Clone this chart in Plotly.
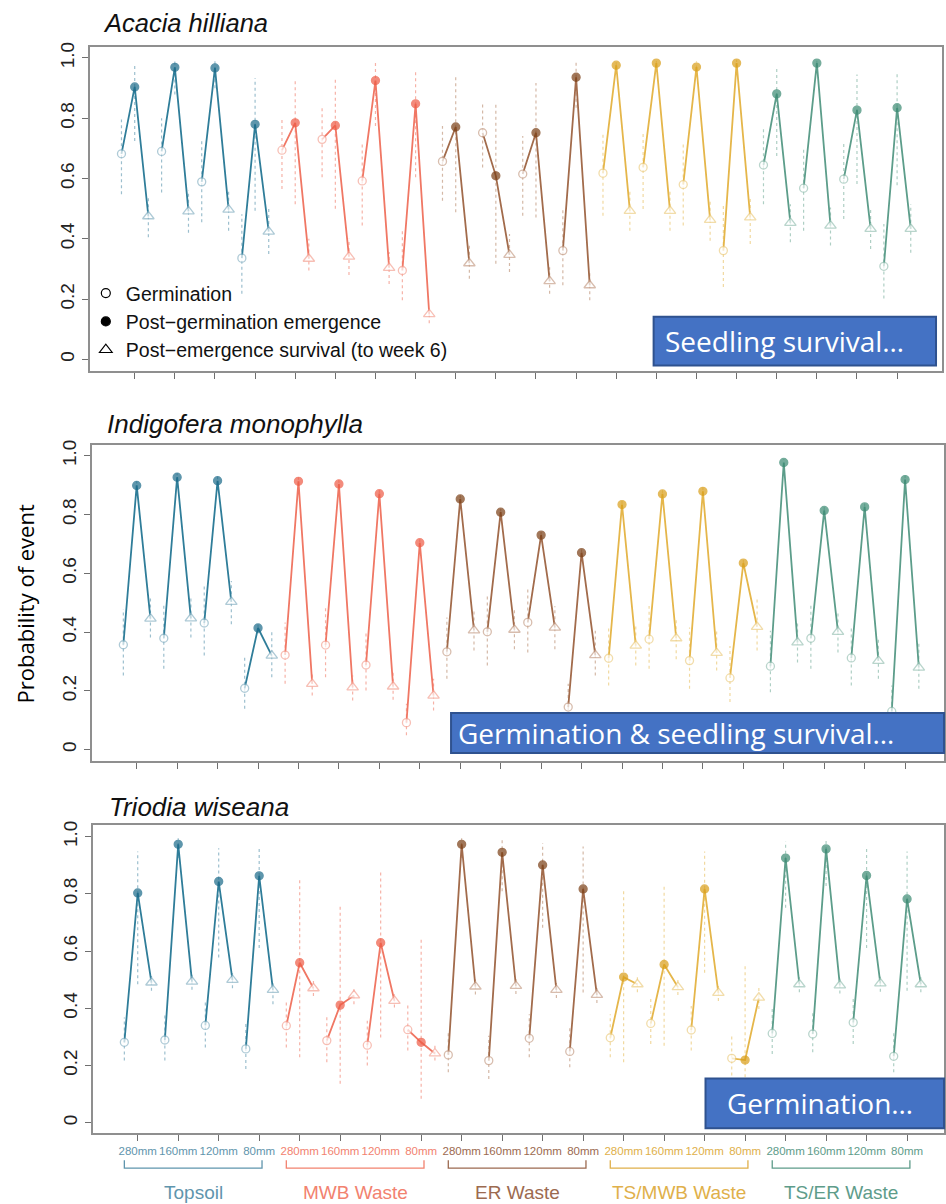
import plotly.graph_objects as go

# ---------------- data ----------------
species = ["Acacia hilliana", "Indigofera monophylla", "Triodia wiseana"]
groups = ["Topsoil", "MWB Waste", "ER Waste", "TS/MWB Waste", "TS/ER Waste"]
depths = ["280mm", "160mm", "120mm", "80mm"]
treatments = list(range(1, 21))
event_names = ["Germination", "Post\u2212germination emergence", "Post\u2212emergence survival (to week 6)"]

# Acacia hilliana
acacia_germ = [0.682, 0.690, 0.589, 0.336, 0.694, 0.730, 0.592, 0.295, 0.657, 0.752, 0.615, 0.361, 0.618, 0.637, 0.580, 0.361, 0.645, 0.568, 0.598, 0.309]
acacia_germ_lo = [0.548, 0.554, 0.455, 0.218, 0.565, 0.604, 0.444, 0.196, 0.526, 0.637, 0.477, 0.246, 0.477, 0.499, 0.444, 0.240, 0.515, 0.427, 0.466, 0.202]
acacia_germ_hi = [0.796, 0.800, 0.725, 0.482, 0.800, 0.835, 0.720, 0.427, 0.774, 0.846, 0.741, 0.504, 0.747, 0.758, 0.714, 0.515, 0.769, 0.703, 0.725, 0.449]
acacia_emerg = [0.904, 0.969, 0.967, 0.780, 0.785, 0.776, 0.925, 0.848, 0.771, 0.609, 0.752, 0.936, 0.976, 0.983, 0.970, 0.983, 0.881, 0.983, 0.827, 0.835]
acacia_emerg_lo = [0.725, 0.879, 0.900, 0.493, 0.515, 0.500, 0.774, 0.604, 0.488, 0.317, 0.471, 0.835, 0.956, 0.960, 0.945, 0.967, 0.675, 0.961, 0.582, 0.578]
acacia_emerg_hi = [0.978, 0.994, 0.994, 0.934, 0.928, 0.928, 0.983, 0.956, 0.940, 0.846, 0.917, 0.989, 0.989, 0.994, 0.989, 0.994, 0.967, 0.994, 0.945, 0.950]
acacia_surv = [0.475, 0.491, 0.497, 0.424, 0.334, 0.341, 0.304, 0.150, 0.319, 0.347, 0.260, 0.246, 0.493, 0.493, 0.463, 0.471, 0.453, 0.444, 0.433, 0.433]
acacia_surv_lo = [0.405, 0.420, 0.427, 0.350, 0.295, 0.280, 0.250, 0.120, 0.268, 0.290, 0.218, 0.196, 0.427, 0.427, 0.394, 0.383, 0.389, 0.378, 0.366, 0.354]
acacia_surv_hi = [0.537, 0.560, 0.565, 0.499, 0.400, 0.400, 0.356, 0.180, 0.383, 0.416, 0.306, 0.295, 0.559, 0.565, 0.531, 0.540, 0.515, 0.504, 0.504, 0.515]

# Indigofera monophylla
indigo_germ = [0.357, 0.379, 0.431, 0.209, 0.322, 0.356, 0.288, 0.092, 0.333, 0.401, 0.433, 0.145, 0.311, 0.376, 0.303, 0.244, 0.284, 0.379, 0.312, 0.130]
indigo_germ_lo = [0.252, 0.275, 0.320, 0.139, 0.224, 0.246, 0.201, 0.049, 0.241, 0.286, 0.331, 0.094, 0.218, 0.275, 0.207, 0.162, 0.195, 0.275, 0.218, 0.071]
indigo_germ_hi = [0.478, 0.500, 0.557, 0.314, 0.433, 0.484, 0.405, 0.156, 0.450, 0.523, 0.551, 0.224, 0.421, 0.489, 0.416, 0.353, 0.405, 0.495, 0.421, 0.218]
indigo_emerg = [0.899, 0.927, 0.915, 0.414, 0.913, 0.904, 0.871, 0.704, 0.853, 0.808, 0.730, 0.670, 0.834, 0.870, 0.879, 0.635, 0.977, 0.814, 0.826, 0.919]
indigo_emerg_lo = [0.885, 0.913, 0.900, 0.395, 0.898, 0.888, 0.853, 0.685, 0.835, 0.790, 0.710, 0.650, 0.815, 0.852, 0.862, 0.615, 0.965, 0.795, 0.807, 0.903]
indigo_emerg_hi = [0.913, 0.941, 0.929, 0.432, 0.927, 0.919, 0.888, 0.722, 0.870, 0.825, 0.749, 0.689, 0.852, 0.887, 0.895, 0.655, 0.988, 0.832, 0.844, 0.934]
indigo_surv = [0.446, 0.447, 0.503, 0.320, 0.224, 0.212, 0.215, 0.184, 0.406, 0.408, 0.415, 0.322, 0.354, 0.379, 0.329, 0.418, 0.365, 0.401, 0.302, 0.279]
indigo_surv_lo = [0.382, 0.382, 0.427, 0.246, 0.184, 0.167, 0.170, 0.133, 0.337, 0.342, 0.342, 0.252, 0.286, 0.308, 0.269, 0.337, 0.297, 0.331, 0.241, 0.207]
indigo_surv_hi = [0.523, 0.523, 0.574, 0.410, 0.263, 0.252, 0.268, 0.241, 0.478, 0.478, 0.488, 0.405, 0.421, 0.450, 0.405, 0.517, 0.433, 0.472, 0.376, 0.365]

# Triodia wiseana
triodia_germ = [0.281, 0.289, 0.340, 0.258, 0.339, 0.287, 0.271, 0.325, 0.237, 0.217, 0.295, 0.249, 0.297, 0.347, 0.324, 0.225, 0.312, 0.310, 0.350, 0.232]
triodia_germ_lo = [0.217, 0.217, 0.263, 0.188, 0.263, 0.211, 0.200, 0.252, 0.176, 0.153, 0.229, 0.194, 0.229, 0.275, 0.252, 0.165, 0.240, 0.246, 0.275, 0.176]
triodia_germ_hi = [0.368, 0.379, 0.426, 0.345, 0.426, 0.374, 0.356, 0.414, 0.321, 0.304, 0.379, 0.339, 0.379, 0.437, 0.408, 0.304, 0.397, 0.393, 0.437, 0.321]
triodia_emerg = [0.803, 0.973, 0.843, 0.863, 0.559, 0.411, 0.629, 0.281, 0.973, 0.945, 0.901, 0.817, 0.509, 0.553, 0.817, 0.219, 0.925, 0.957, 0.864, 0.782]
triodia_emerg_lo = [0.484, 0.925, 0.577, 0.611, 0.229, 0.136, 0.298, 0.084, 0.925, 0.809, 0.681, 0.455, 0.211, 0.269, 0.524, 0.159, 0.751, 0.827, 0.611, 0.461]
triodia_emerg_hi = [0.948, 0.994, 0.959, 0.965, 0.849, 0.756, 0.878, 0.646, 0.994, 0.988, 0.977, 0.965, 0.809, 0.832, 0.948, 0.553, 0.983, 0.988, 0.965, 0.948]
triodia_surv = [0.490, 0.493, 0.499, 0.464, 0.470, 0.445, 0.426, 0.242, 0.476, 0.478, 0.464, 0.447, 0.484, 0.474, 0.454, 0.437, 0.484, 0.480, 0.487, 0.484]
triodia_surv_lo = [0.461, 0.465, 0.470, 0.414, 0.443, 0.414, 0.403, 0.217, 0.448, 0.450, 0.436, 0.418, 0.456, 0.446, 0.425, 0.397, 0.456, 0.452, 0.458, 0.456]
triodia_surv_hi = [0.513, 0.518, 0.525, 0.490, 0.495, 0.472, 0.449, 0.269, 0.502, 0.504, 0.490, 0.473, 0.510, 0.500, 0.480, 0.478, 0.510, 0.506, 0.513, 0.510]

y_tick_vals = [0, 0.2, 0.4, 0.6, 0.8, 1.0]
y_tick_text = ["0", "0.2", "0.4", "0.6", "0.8", "1.0"]

callouts = ["Seedling survival\u2026", "Germination & seedling survival\u2026", "Germination\u2026"]

# ---------------- styling ----------------
marker_col = ["#1B6A89", "#EE5B45", "#7A3E14", "#D99E18", "#3A8A72"]
line_col = ["#2F7D99", "#F07764", "#A26B4B", "#E5B64A", "#5C9D8A"]
open_col = ["#8DB5C6", "#F5A597", "#C8A28C", "#EDCF87", "#9CC4B7"]
err_col = ["#9CBFCE", "#F6B2A7", "#D4B8A6", "#F1D9A0", "#AECFC4"]
label_col = ["#5F95AD", "#F2826F", "#9C6A50", "#E0B04A", "#5E9C8A"]

W, H = 946, 1204
OFF = [-0.33, 0.0, 0.34]

# panel geometry (pixels) : x domain, y domain, axis ranges
panels = [
    dict(xd=(90, 944), yd=(42, 368), xr=(-0.119, 21.119), yr=(-0.040, 1.037), title_xy=(101, 18)),
    dict(xd=(92, 946), yd=(442, 759), xr=(-0.110, 20.962), yr=(-0.038, 1.036), title_xy=(105, 421)),
    dict(xd=(93, 946), yd=(823, 1133), xr=(-0.109, 20.912), yr=(-0.037, 1.042), title_xy=(107, 805)),
]
boxes = [(655, 313, 938, 362), (452, 711, 946, 751), (707, 1078, 946, 1128)]
box_text_x = [664, 457, 727]


def px(x):
    return x / W


def py(y):
    return 1 - y / H


table = [
    [(acacia_germ, acacia_germ_lo, acacia_germ_hi), (acacia_emerg, acacia_emerg_lo, acacia_emerg_hi), (acacia_surv, acacia_surv_lo, acacia_surv_hi)],
    [(indigo_germ, indigo_germ_lo, indigo_germ_hi), (indigo_emerg, indigo_emerg_lo, indigo_emerg_hi), (indigo_surv, indigo_surv_lo, indigo_surv_hi)],
    [(triodia_germ, triodia_germ_lo, triodia_germ_hi), (triodia_emerg, triodia_emerg_lo, triodia_emerg_hi), (triodia_surv, triodia_surv_lo, triodia_surv_hi)],
]

fig = go.Figure()
FONT = "Liberation Sans, Arial, Helvetica, sans-serif"
CAL = "Open Sans, sans-serif"

for p, sp in enumerate(species):
    xa = "x" if p == 0 else f"x{p+1}"
    ya = "y" if p == 0 else f"y{p+1}"
    # error bars (dotted) per group
    for gi in range(len(groups)):
        ex, ey = [], []
        for t in treatments[gi * 4:(gi + 1) * 4]:
            for k in range(3):
                _, lo, hi = table[p][k]
                xx = t + OFF[k]
                ex += [xx, xx, None]
                ey += [lo[t - 1], hi[t - 1], None]
        fig.add_trace(go.Scatter(x=ex, y=ey, mode="lines", xaxis=xa, yaxis=ya,
                                 line=dict(color=err_col[gi], width=1.2, dash="dot"),
                                 hoverinfo="skip", showlegend=False))
    # profiles
    for t in treatments:
        gi = (t - 1) // 4
        xs = [t + o for o in OFF]
        ys = [table[p][k][0][t - 1] for k in range(3)]
        fig.add_trace(go.Scatter(
            x=xs, y=ys, mode="lines+markers", xaxis=xa, yaxis=ya, showlegend=False,
            line=dict(color=line_col[gi], width=1.8),
            marker=dict(symbol=["circle", "circle", "triangle-up"], size=[8, 8, 10],
                        color=["white", marker_col[gi], "white"],
                        line=dict(color=[open_col[gi], marker_col[gi], open_col[gi]], width=1.3)),
            name=f"{sp} {groups[gi]} {depths[(t - 1) % 4]}"))

# legend entries (black symbols)
leg_sym = ["circle-open", "circle", "triangle-up-open"]
for k in range(3):
    fig.add_trace(go.Scatter(x=[None], y=[None], mode="markers", xaxis="x", yaxis="y",
                             name=event_names[k],
                             marker=dict(symbol=leg_sym[k], size=[9, 9, 11][k], color="black",
                                         line=dict(color="black", width=1.2))))

layout_axes = {}
for p, g in enumerate(panels):
    xk = "xaxis" if p == 0 else f"xaxis{p+1}"
    yk = "yaxis" if p == 0 else f"yaxis{p+1}"
    yref = "y" if p == 0 else f"y{p+1}"
    xref = "x" if p == 0 else f"x{p+1}"
    xax = dict(domain=[px(g["xd"][0]), px(g["xd"][1])], range=list(g["xr"]), anchor=yref,
               showgrid=False, zeroline=False, showline=True, mirror=True,
               linecolor="#8f8f8f", linewidth=1.5, ticks="outside", ticklen=6,
               tickcolor="#6f6f6f", tickwidth=1.2, tickvals=treatments, showticklabels=False)
    if p == 2:
        xax["showticklabels"] = True
        xax["ticktext"] = [f"<span style='color:{label_col[(t - 1) // 4]}'>{depths[(t - 1) % 4]}</span>"
                           for t in treatments]
        xax["tickfont"] = dict(family=FONT, size=11.5)
    yax = dict(domain=[py(g["yd"][1]), py(g["yd"][0])], range=list(g["yr"]), anchor=xref,
               showgrid=False, zeroline=False, showline=True, mirror=True,
               linecolor="#8f8f8f", linewidth=1.5, ticks="outside", ticklen=6,
               tickcolor="#6f6f6f", tickwidth=1.2, tickvals=y_tick_vals, ticktext=y_tick_text,
               tickangle=-90, tickfont=dict(family=FONT, size=19, color="#222222"))
    layout_axes[xk] = xax
    layout_axes[yk] = yax

annotations = []
shapes = []
title_sizes = [25.5, 26, 26]
for p, g in enumerate(panels):
    annotations.append(dict(x=px(g["title_xy"][0]), y=py(g["title_xy"][1]), xref="paper", yref="paper",
                            text=f"<i>{species[p]}</i>", showarrow=False, xanchor="left", yanchor="middle",
                            font=dict(family=FONT, size=title_sizes[p], color="#111111")))

# y-axis title
annotations.append(dict(x=px(25), y=py(601), xref="paper", yref="paper", text="Probability of event",
                        textangle=-90, showarrow=False, xanchor="center", yanchor="middle",
                        font=dict(family=CAL, size=22, color="black")))

# group brackets and labels under panel 3
for gi, gname in enumerate(groups):
    t0 = treatments[gi * 4]
    t1 = treatments[gi * 4 + 3]
    xa0, xa1 = t0 - 0.33, t1 + 0.07
    yb_top, yb = py(1160), py(1168)
    shapes.append(dict(type="path", xref="x3", yref="paper",
                       path=f"M {xa0},{yb_top} L {xa0},{yb} L {xa1},{yb} L {xa1},{yb_top}",
                       line=dict(color=label_col[gi], width=1.3)))
    annotations.append(dict(x=(t0 + t1) / 2 - 0.13, y=py(1192), xref="x3", yref="paper", text=gname,
                            showarrow=False, xanchor="center", yanchor="middle",
                            font=dict(family=FONT, size=19, color=label_col[gi])))

# callout boxes
for b, (x0, y0, x1, y1) in enumerate(boxes):
    shapes.append(dict(type="rect", xref="paper", yref="paper", x0=px(x0), x1=px(x1), y0=py(y1), y1=py(y0),
                       fillcolor="#4472C4", line=dict(color="#2F528F", width=2), layer="above"))
    annotations.append(dict(x=px(box_text_x[b]), y=py((y0 + y1) / 2), xref="paper", yref="paper",
                            text=callouts[b], showarrow=False, xanchor="left", yanchor="middle",
                            font=dict(family=CAL, size=28, color="white")))

fig.update_layout(
    width=W, height=H, margin=dict(l=0, r=0, t=0, b=0),
    paper_bgcolor="white", plot_bgcolor="white",
    showlegend=True,
    legend=dict(x=px(86), y=py(270), xanchor="left", yanchor="top", bgcolor="rgba(0,0,0,0)",
                font=dict(family=FONT, size=19.5, color="#111111"), tracegroupgap=0, itemsizing="trace"),
    annotations=annotations, shapes=shapes,
    **layout_axes,
)

fig.write_html("out.html", config={"displayModeBar": False},
               post_script="document.body.style.margin='0';document.body.style.overflow='hidden';"
                           "document.documentElement.style.overflow='hidden';")
